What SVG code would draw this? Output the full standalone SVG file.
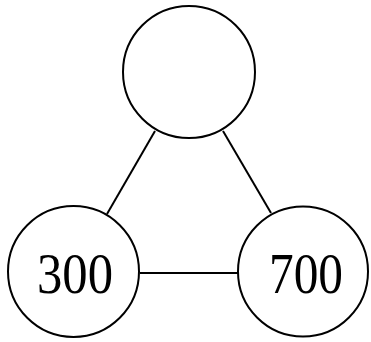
<svg xmlns="http://www.w3.org/2000/svg" width="371" height="342" viewBox="0 0 371 342">
<style>
.n{fill:#fff;stroke:#000;stroke-width:2}
.e{stroke:#000;stroke-width:2;fill:none}
.t{font-family:"Liberation Serif","Times New Roman",serif;font-size:56px;fill:#000}
</style>
<rect width="371" height="342" fill="#fff"/>
<g id="edges">
<line class="e" x1="155" y1="131" x2="107" y2="214"/>
<line class="e" x1="223" y1="131" x2="271" y2="213"/>
<line class="e" x1="140" y1="273" x2="238" y2="273"/>
</g>
<g id="top"><circle class="n" cx="189" cy="72" r="66"/></g>
<g id="n300"><circle class="n" cx="73.5" cy="271.5" r="65.5"/><text class="t" x="37" y="293" textLength="76" lengthAdjust="spacingAndGlyphs">300</text></g>
<g id="n700"><circle class="n" cx="303" cy="271.5" r="65"/><text class="t" x="269" y="293" textLength="74" lengthAdjust="spacingAndGlyphs">700</text></g>
</svg>
